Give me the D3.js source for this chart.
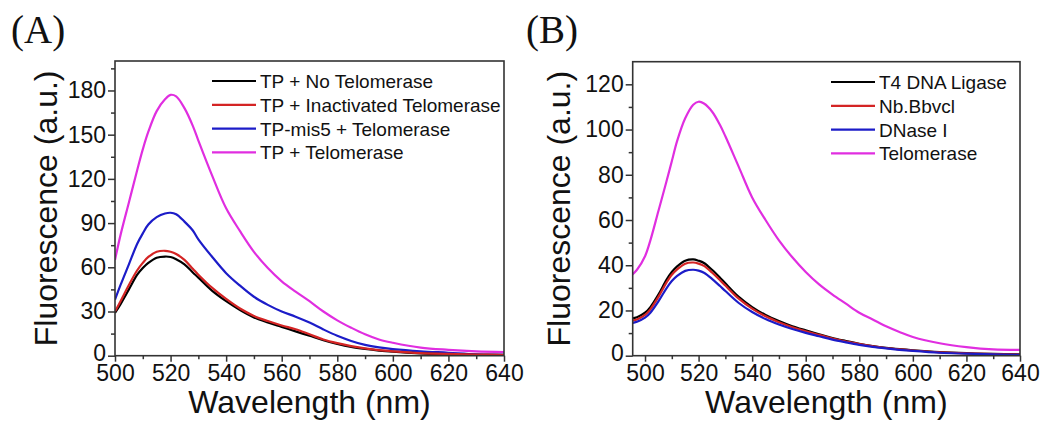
<!DOCTYPE html>
<html>
<head>
<meta charset="utf-8">
<script src="https://cdn.jsdelivr.net/npm/d3@7"></script>
<style>
  html, body { margin: 0; padding: 0; background: #fff; }
  svg { display: block; }
</style>
</head>
<body>
<svg id="chart" width="1051" height="428"></svg>
<script>
// ---------------- DATA ----------------
// Panel A
const wavelengthsA = [500,502,505,508,510,512,515,518,520,522,525,528,530,535,540,545,550,555,560,565,570,575,580,585,590,595,600,610,620,630,640];
const tpNoTelomerase = [29,35,45,55,59.5,63,66.5,67.3,67,65.5,62,56.5,53,44,37,31,26,22.5,19.5,16.5,13.5,10.5,8,6,4.6,3.5,2.7,1.6,1,0.6,0.4];
const tpInactivated  = [30,37,48,58,63,67,70.5,71.2,70.5,69,65,59,55,46,38.5,32,27,23.5,20.5,18,14.5,11,8.5,6.5,5,3.8,3,1.8,1.2,0.8,0.5];
const tpMis5         = [38,48,62,76,83,89,94,96.5,97,96,91,85,79,67,56,47.5,40,34.5,30,26.5,22.5,17.8,13.5,10,7.3,5.6,4.5,3,2,0.9,0.8];
const tpTelomerase   = [65,82,104,126,140,152,166,174,177,176,168,156,146,122,100,84.5,70.5,59.5,50.5,43.5,37,30,24,19,14.5,11,8.8,5.5,4,3,2.5];
const seriesNamesA = ["TP + No Telomerase","TP + Inactivated Telomerase","TP-mis5 + Telomerase","TP + Telomerase"];

// Panel B
const wavelengthsB = [495,497,500,502,505,508,510,512,515,518,520,522,525,528,530,535,540,545,550,555,560,565,570,575,580,585,590,595,600,610,620,630,640];
const t4Ligase   = [16.5,17,19,21.5,27,33.5,37,39.5,42,42.6,42,41,38,34.5,32,26,21.5,18,15.3,13,11.2,9.5,7.8,6.5,5.3,4.3,3.5,2.9,2.4,1.6,1.1,0.8,0.6];
const nbBbvci    = [15.5,16,18,20.5,26,32.3,35.8,38.2,40.7,41.2,40.7,39.7,36.8,33.4,31,25.2,20.8,17.4,14.8,12.6,10.8,9.2,7.6,6.3,5.1,4.2,3.4,2.8,2.3,1.5,1.0,0.7,0.5];
const dnaseI     = [14.4,15,16.8,19,24,29.8,33,35.3,37.5,38,37.6,36.7,34,30.8,28.6,23.3,19.3,16.2,13.8,11.8,10.1,8.6,7.1,5.9,4.8,3.9,3.2,2.6,2.1,1.3,0.9,0.6,0.4];
const telomeraseB= [35.6,38,44,51,64,77,86,95,105,111,112.3,111.5,108,102,97,83.5,70,60,51,43.5,37,31.5,27,23,19,16,13,10.5,8.3,5.5,3.8,2.8,2.6];
const seriesNamesB = ["T4 DNA Ligase","Nb.Bbvcl","DNase I","Telomerase"];

// Axis ticks
const xTicks = [500,520,540,560,580,600,620,640];
const xMinorTicks = [510,530,550,570,590,610,630];
const yTicksA = [0,30,60,90,120,150,180];
const yMinorTicksA = [15,45,75,105,135,165,195];
const yTicksB = [0,20,40,60,80,100,120];
const yMinorTicksB = [10,30,50,70,90,110];

const seriesColors = ["#000000","#d42424","#1c1cc8","#e02ee0"];

// ---------------- DRAW ----------------
const svg = d3.select("#chart");

function drawPanel(cfg) {
  const g = svg.append("g");
  const x = d3.scaleLinear().domain(cfg.xDomain).range([cfg.left, cfg.right]);
  const y = d3.scaleLinear().domain(cfg.yDomain).range([cfg.bottom, cfg.top]);

  const clipId = "clip" + cfg.id;
  svg.append("clipPath").attr("id", clipId)
    .append("rect")
    .attr("x", cfg.left).attr("y", cfg.top)
    .attr("width", cfg.right - cfg.left).attr("height", cfg.bottom - cfg.top);

  const line = d3.line()
    .x(d => x(d[0])).y(d => y(d[1]))
    .curve(d3.curveCatmullRom.alpha(0.5));
  cfg.drawOrder.forEach(i => {
    const pts = cfg.wavelengths.map((w, k) => [w, cfg.series[i][k]]);
    g.append("path")
      .attr("clip-path", `url(#${clipId})`)
      .attr("d", line(pts))
      .attr("fill", "none")
      .attr("stroke", seriesColors[i])
      .attr("stroke-width", 2.2)
      .attr("stroke-linejoin", "round");
  });

  // Frame
  g.append("rect")
    .attr("x", cfg.left).attr("y", cfg.top)
    .attr("width", cfg.right - cfg.left).attr("height", cfg.bottom - cfg.top)
    .attr("fill", "none").attr("stroke", "#333").attr("stroke-width", 1.6);

  const fontFam = "'Liberation Sans', Arial, sans-serif";

  // X axis
  const xAxis = g.append("g").attr("transform", `translate(0,${cfg.bottom})`)
    .call(d3.axisBottom(x).tickValues(xTicks).tickSize(6).tickPadding(3).tickFormat(d3.format("d")));
  xAxis.select(".domain").remove();
  xAxis.selectAll("line").attr("stroke", "#333").attr("stroke-width", 1.5);
  xAxis.selectAll("text").attr("font-family", fontFam).attr("font-size", 23).attr("fill", "#111");
  const xMinor = g.append("g").attr("transform", `translate(0,${cfg.bottom})`)
    .call(d3.axisBottom(x).tickValues(xMinorTicks).tickSize(3.5).tickFormat(""));
  xMinor.select(".domain").remove();
  xMinor.selectAll("line").attr("stroke", "#333").attr("stroke-width", 1.5);

  // Y axis
  const yAxis = g.append("g").attr("transform", `translate(${cfg.left},0)`)
    .call(d3.axisLeft(y).tickValues(cfg.yTicks).tickSize(7).tickPadding(2).tickFormat(d3.format("d")));
  yAxis.select(".domain").remove();
  yAxis.selectAll("line").attr("stroke", "#333").attr("stroke-width", 1.5);
  yAxis.selectAll("text").attr("font-family", fontFam).attr("font-size", 23).attr("fill", "#111");
  // lift the bottom "0" a touch so it does not collide with the x labels
  yAxis.selectAll(".tick").filter(d => d === 0).select("text").attr("dy", "0.2em");
  const yMinor = g.append("g").attr("transform", `translate(${cfg.left},0)`)
    .call(d3.axisLeft(y).tickValues(cfg.yMinorTicks).tickSize(4).tickFormat(""));
  yMinor.select(".domain").remove();
  yMinor.selectAll("line").attr("stroke", "#333").attr("stroke-width", 1.5);

  // Axis titles
  g.append("text")
    .attr("x", (cfg.left + cfg.right) / 2).attr("y", 413)
    .attr("text-anchor", "middle")
    .attr("font-family", fontFam).attr("font-size", 32).attr("fill", "#111")
    .text("Wavelength (nm)");
  g.append("text")
    .attr("transform", `translate(${cfg.yTitleX},${(cfg.top + cfg.bottom) / 2}) rotate(-90)`)
    .attr("text-anchor", "middle")
    .attr("font-family", fontFam).attr("font-size", 32).attr("fill", "#111")
    .text("Fluorescence (a.u.)");

  // Panel label
  g.append("text")
    .attr("x", cfg.labelX).attr("y", 43)
    .attr("font-family", "'Liberation Serif', 'Times New Roman', serif")
    .attr("font-size", 39).attr("fill", "#111")
    .text(cfg.label);

  // Legend
  cfg.names.forEach((name, i) => {
    const cy = cfg.legendY + i * 23.8;
    g.append("line")
      .attr("x1", cfg.legendX).attr("x2", cfg.legendX + 44)
      .attr("y1", cy).attr("y2", cy)
      .attr("stroke", seriesColors[i]).attr("stroke-width", 2.2);
    g.append("text")
      .attr("x", cfg.legendX + 48).attr("y", cy + 7)
      .attr("font-family", fontFam).attr("font-size", 19).attr("fill", "#111")
      .text(name);
  });
}

drawPanel({
  id: "A", label: "(A)", labelX: 11,
  left: 115, right: 504, top: 61, bottom: 355.7,
  xDomain: [500, 640], yDomain: [0, 200],
  yTicks: yTicksA, yMinorTicks: yMinorTicksA,
  wavelengths: wavelengthsA,
  series: [tpNoTelomerase, tpInactivated, tpMis5, tpTelomerase],
  drawOrder: [3, 2, 0, 1],
  names: seriesNamesA,
  legendX: 212, legendY: 81,
  yTitleX: 57
});

drawPanel({
  id: "B", label: "(B)", labelX: 526,
  left: 632.7, right: 1020, top: 61.7, bottom: 355.7,
  xDomain: [495.4, 640], yDomain: [0, 130],
  yTicks: yTicksB, yMinorTicks: yMinorTicksB,
  wavelengths: wavelengthsB,
  series: [t4Ligase, nbBbvci, dnaseI, telomeraseB],
  drawOrder: [3, 0, 1, 2],
  names: seriesNamesB,
  legendX: 831, legendY: 82,
  yTitleX: 570
});
</script>
</body>
</html>
